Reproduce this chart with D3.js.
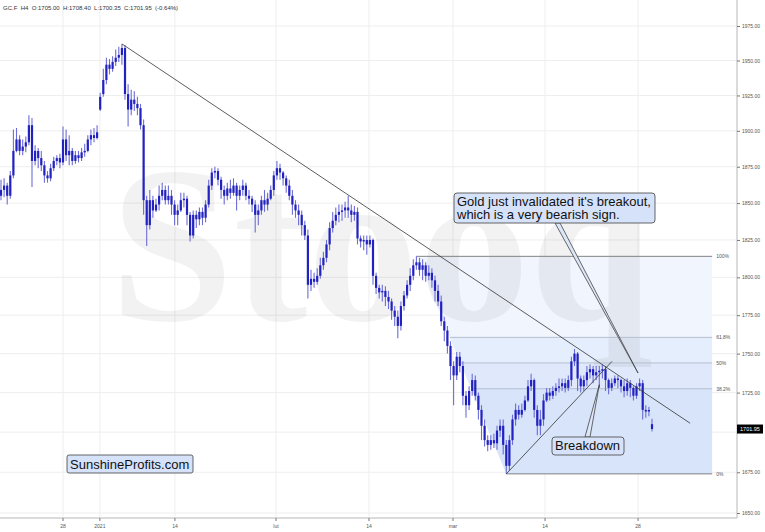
<!DOCTYPE html>
<html>
<head>
<meta charset="utf-8">
<script src="https://cdn.jsdelivr.net/npm/d3@7"></script>
<style>
  body { margin: 0; background: #fff; }
  svg { display: block; font-family: "Liberation Sans", Arial, sans-serif; }
</style>
</head>
<body>
<div id="chart"></div>
<script>
// GC.F H4 bars: [open, high, low, close]
const bars = [
  [1855,1866,1852,1859],[1859,1867,1854,1862],[1862,1864,1849,1855],[1855,1872,1853,1869],
  [1869,1901,1867,1886],[1886,1902,1885,1894],[1894,1897,1883,1886],[1886,1894,1883,1889],
  [1889,1896,1885,1892],[1892,1911,1890,1904],[1904,1909,1861,1879],[1879,1890,1876,1886],
  [1886,1888,1874,1881],[1881,1886,1872,1876],[1876,1879,1864,1869],[1869,1872,1864,1867],
  [1867,1877,1865,1874],[1874,1882,1872,1879],[1879,1883,1876,1881],[1881,1884,1874,1878],
  [1878,1903,1876,1894],[1894,1901,1879,1883],[1883,1897,1876,1886],[1886,1888,1876,1879],
  [1879,1886,1877,1883],[1883,1886,1878,1881],[1881,1888,1879,1885],[1885,1891,1882,1886],
  [1886,1897,1885,1894],[1894,1901,1890,1897],[1897,1902,1892,1895],[1895,1904,1894,1899],
  [1915,1927,1914,1924],[1926,1944,1924,1936],[1936,1952,1933,1947],[1947,1951,1940,1944],
  [1944,1953,1942,1949],[1949,1958,1946,1952],[1952,1960,1949,1954],[1954,1962,1947,1959],
  [1959,1961,1922,1926],[1926,1933,1903,1915],[1915,1929,1911,1922],[1922,1928,1914,1919],
  [1919,1924,1911,1916],[1916,1919,1901,1904],[1904,1908,1842,1852],[1852,1855,1821,1835],
  [1835,1859,1832,1852],[1852,1855,1840,1845],[1845,1853,1844,1849],[1849,1862,1845,1855],
  [1855,1864,1852,1859],[1859,1862,1849,1852],[1852,1862,1849,1855],[1855,1859,1842,1849],
  [1849,1852,1835,1842],[1842,1849,1835,1845],[1845,1857,1844,1852],[1852,1857,1847,1853],
  [1853,1855,1835,1842],[1842,1844,1824,1828],[1828,1845,1826,1842],[1842,1845,1833,1839],
  [1839,1847,1835,1844],[1844,1847,1835,1840],[1840,1852,1837,1849],[1849,1866,1847,1862],
  [1862,1874,1859,1871],[1871,1875,1867,1872],[1872,1874,1862,1866],[1866,1868,1853,1859],
  [1859,1862,1849,1855],[1855,1864,1852,1860],[1860,1866,1853,1857],[1857,1867,1855,1862],
  [1862,1864,1845,1855],[1855,1862,1852,1859],[1859,1866,1855,1862],[1862,1864,1852,1855],
  [1855,1859,1849,1853],[1853,1855,1844,1849],[1849,1852,1830,1842],[1842,1849,1835,1845],
  [1845,1855,1842,1852],[1852,1859,1844,1849],[1849,1857,1845,1853],[1853,1862,1852,1859],
  [1859,1872,1855,1869],[1869,1879,1866,1874],[1874,1877,1866,1871],[1871,1872,1862,1867],
  [1867,1869,1857,1862],[1862,1866,1852,1855],[1855,1859,1842,1849],[1849,1852,1840,1845],
  [1845,1849,1835,1842],[1842,1845,1828,1835],[1835,1838,1825,1828],[1828,1832,1786,1795],
  [1795,1805,1791,1799],[1799,1803,1793,1797],[1797,1806,1795,1801],[1801,1813,1799,1808],
  [1808,1817,1805,1813],[1813,1825,1810,1822],[1822,1837,1818,1833],[1833,1844,1830,1838],
  [1838,1847,1835,1842],[1842,1849,1837,1844],[1844,1849,1838,1845],[1845,1851,1840,1847],
  [1847,1855,1840,1845],[1845,1849,1837,1842],[1842,1848,1838,1844],[1844,1847,1822,1826],
  [1826,1828,1820,1824],[1824,1828,1818,1825],[1825,1828,1815,1822],[1822,1828,1820,1825],
  [1825,1826,1795,1801],[1801,1803,1789,1793],[1793,1795,1786,1790],[1790,1795,1784,1791],
  [1791,1794,1781,1787],[1787,1791,1779,1784],[1784,1786,1772,1778],[1778,1781,1768,1774],
  [1774,1778,1760,1768],[1768,1784,1765,1781],[1781,1791,1778,1788],[1788,1798,1786,1795],
  [1795,1806,1791,1801],[1801,1812,1798,1808],[1808,1814,1805,1810],[1810,1813,1801,1805],
  [1805,1812,1798,1808],[1808,1810,1797,1801],[1801,1808,1798,1803],[1803,1806,1793,1798],
  [1798,1801,1784,1791],[1791,1795,1781,1784],[1784,1788,1768,1771],[1771,1774,1758,1765],
  [1765,1768,1750,1755],[1755,1758,1733,1742],[1742,1745,1717,1736],[1736,1751,1733,1748],
  [1748,1751,1738,1742],[1742,1745,1717,1723],[1723,1726,1709,1717],[1717,1729,1714,1726],
  [1726,1737,1723,1733],[1733,1736,1720,1723],[1723,1725,1708,1714],[1714,1717,1695,1704],
  [1704,1708,1691,1695],[1695,1698,1688,1692],[1692,1698,1689,1695],[1695,1699,1690,1693],
  [1693,1704,1689,1701],[1701,1708,1697,1704],[1704,1708,1686,1692],[1692,1695,1674,1679],
  [1679,1698,1676,1695],[1695,1711,1692,1708],[1708,1718,1704,1714],[1714,1717,1708,1711],
  [1711,1718,1709,1714],[1714,1723,1713,1720],[1720,1733,1719,1729],[1729,1737,1726,1733],
  [1733,1734,1709,1714],[1714,1717,1698,1704],[1704,1714,1698,1708],[1708,1724,1704,1720],
  [1720,1728,1719,1725],[1725,1728,1720,1723],[1723,1729,1721,1726],[1726,1731,1723,1728],
  [1728,1734,1725,1729],[1729,1734,1726,1731],[1731,1734,1725,1728],[1728,1736,1726,1733],
  [1733,1748,1729,1745],[1745,1753,1742,1750],[1750,1751,1726,1734],[1734,1736,1725,1729],
  [1729,1736,1726,1733],[1733,1742,1729,1738],[1738,1743,1734,1740],[1740,1742,1731,1736],
  [1736,1742,1733,1738],[1738,1742,1728,1739],[1739,1743,1734,1740],[1740,1742,1726,1733],
  [1733,1734,1724,1728],[1728,1734,1726,1731],[1731,1736,1729,1734],[1734,1736,1728,1733],
  [1733,1734,1725,1729],[1729,1733,1722,1726],[1726,1734,1723,1731],[1731,1733,1722,1728],
  [1728,1729,1720,1723],[1723,1731,1721,1729],[1729,1734,1726,1731],[1731,1733,1708,1714],
  [1714,1717,1709,1713],[1713,1716,1710,1714],[1705,1708.4,1700.35,1701.95]
];

const yTicks = [1650,1675,1700,1725,1750,1775,1800,1825,1850,1875,1900,1925,1950,1975];
const xTickLabels = ["28","2021","14","lut","14","mar","14","28"];
const xTickBars = [20, 31.9, 56.1, 88.7, 118.7, 145.8, 175.5, 205.5];

const fibLevels = [1, 0.618, 0.5, 0.382, 0];
const fibLabels = ["100%", "61.8%", "50%", "38.2%", "0%"];
const fibHighBar = 134, fibLowBar = 163, fibEndBar = 229.4;

// trend lines: [barIndex, price] pairs
const downTrend = [[39, 1962], [222.3, 1705.6]];
const upTrend = [[163, 1674], [197.1, 1745]];

const header = "GC.F  H4  O:1705.00  H:1708.40  L:1700.35  C:1701.95  (-0.64%)";
const lastClose = 1701.95;

const width = 765, height = 532;
const plotRight = 737, plotBottom = 518;

const svg = d3.select('#chart').append('svg')
    .attr('width', width).attr('height', height);

const x = d3.scaleLinear().domain([0, bars.length - 1]).range([1, 652]);
const y = d3.scaleLog().domain([1650, 1975]).range([513, 26]);

// grid
svg.append('g').selectAll('line').data(xTickBars).enter().append('line')
    .attr('x1', d => x(d)).attr('x2', d => x(d))
    .attr('y1', 0).attr('y2', plotBottom)
    .attr('stroke', '#eeeeee');
svg.append('g').selectAll('line').data(yTicks).enter().append('line')
    .attr('x1', 0).attr('x2', plotRight)
    .attr('y1', d => y(d)).attr('y2', d => y(d))
    .attr('stroke', '#eeeeee');

// fibonacci area
const fibHigh = bars[fibHighBar][1], fibLow = bars[fibLowBar][2];
const fibPrice = f => fibLow + f * (fibHigh - fibLow);
const xH = x(fibHighBar), yH = y(fibHigh), xL = x(fibLowBar), yL = y(fibLow);
const diagX = yy => xH + (yy - yH) / (yL - yH) * (xL - xH);
const xR = x(fibEndBar);
const bandFill = ['#f1f5fd', '#e5eefc', '#dfe9fb', '#d7e4fa'];

for (let k = 0; k < fibLevels.length - 1; k++) {
    const y1 = y(fibPrice(fibLevels[k])), y2 = y(fibPrice(fibLevels[k + 1]));
    svg.append('polygon')
        .attr('points', [[diagX(y1), y1], [xR, y1], [xR, y2], [diagX(y2), y2]].join(' '))
        .attr('fill', bandFill[k]);
}

// watermark
svg.append('text')
    .attr('x', 110).attr('y', 320)
    .attr('font-family', '"Liberation Serif", "DejaVu Serif", serif')
    .attr('font-weight', 'bold')
    .attr('font-size', 222)
    .attr('fill', '#000').attr('fill-opacity', 0.05)
    .text('Stooq');

// fib lines + labels
fibLevels.forEach((f, k) => {
    const yy = y(fibPrice(f));
    const strong = f === 1 || f === 0;
    svg.append('line')
        .attr('x1', diagX(yy)).attr('x2', xR)
        .attr('y1', yy).attr('y2', yy)
        .attr('stroke', strong ? '#666' : '#b4bfd0')
        .attr('stroke-width', strong ? 0.8 : 1);
    svg.append('text')
        .attr('x', xR + 4).attr('y', yy + 1.8)
        .attr('font-size', 5).attr('fill', '#555')
        .text(fibLabels[k]);
});

// bars
const g = svg.append('g');
g.selectAll('line.wick').data(bars).enter().append('line')
    .attr('class', 'wick')
    .attr('x1', (d, i) => x(i)).attr('x2', (d, i) => x(i))
    .attr('y1', d => y(d[1])).attr('y2', d => y(d[2]))
    .attr('stroke', '#6d6dd6').attr('stroke-width', 1.1);
g.selectAll('rect').data(bars).enter().append('rect')
    .attr('x', (d, i) => x(i) - 1.1)
    .attr('width', 2.2)
    .attr('y', d => y(Math.max(d[0], d[3])))
    .attr('height', d => Math.max(1, Math.abs(y(d[0]) - y(d[3]))))
    .attr('fill', '#2222c0');

// trend lines
[downTrend, upTrend].forEach(t => {
    svg.append('line')
        .attr('x1', x(t[0][0])).attr('y1', y(t[0][1]))
        .attr('x2', x(t[1][0])).attr('y2', y(t[1][1]))
        .attr('stroke', '#333').attr('stroke-width', 0.8);
});

// callouts
function callout(lines, bx, by, bw, bh, fs, base, baseY, tip) {
    svg.append('polygon')
        .attr('points', [[base[0], baseY], [x(tip[0]), y(tip[1])], [base[1], baseY]].join(' '))
        .attr('fill', '#dce7f9').attr('stroke', '#444').attr('stroke-width', 0.8);
    svg.append('rect')
        .attr('x', bx).attr('y', by).attr('width', bw).attr('height', bh)
        .attr('rx', 3)
        .attr('fill', '#d5e2f9').attr('stroke', '#555').attr('stroke-width', 0.9);
    lines.forEach((s, k) => {
        svg.append('text')
            .attr('x', bx + 3).attr('y', by + fs - 0.5 + k * fs)
            .attr('font-size', fs).attr('fill', '#111')
            .text(s);
    });
}
callout(["Gold just invalidated it's breakout,", "which is a very bearish sign."],
    454, 193, 201, 30, 13, [555, 560], 223, [205.5, 1737.5]);
callout(["Breakdown"], 552, 437, 72, 18, 13, [585, 590], 437, [193, 1730]);

// brand box
svg.append('rect')
    .attr('x', 67).attr('y', 455).attr('width', 126).attr('height', 18)
    .attr('rx', 2)
    .attr('fill', '#d5e2f9').attr('stroke', '#555').attr('stroke-width', 0.9);
svg.append('text')
    .attr('x', 70).attr('y', 469)
    .attr('font-size', 13).attr('fill', '#111')
    .text('SunshineProfits.com');

// axes
svg.append('line')
    .attr('x1', plotRight).attr('x2', plotRight).attr('y1', 0).attr('y2', plotBottom)
    .attr('stroke', '#cfcfcf').attr('stroke-width', 1.5);
svg.append('line')
    .attr('x1', 0).attr('x2', plotRight).attr('y1', plotBottom).attr('y2', plotBottom)
    .attr('stroke', '#cfcfcf').attr('stroke-width', 1.5);

// the 1700 label sits under the last-price tag, as in the original
const yAxis = d3.axisRight(y).tickValues(yTicks)
    .tickFormat(d => d === 1700 ? '' : d3.format('.2f')(d))
    .tickSize(3).tickPadding(2);
const ya = svg.append('g').attr('transform', `translate(${plotRight},0)`).call(yAxis);
ya.select('.domain').remove();
ya.selectAll('line').attr('stroke', '#777');
ya.selectAll('text').attr('font-size', 5).attr('fill', '#555').attr('font-family', null);

const xa = svg.append('g').attr('transform', `translate(0,${plotBottom})`);
xTickBars.forEach((b, k) => {
    xa.append('line').attr('x1', x(b)).attr('x2', x(b)).attr('y1', 0).attr('y2', 3)
        .attr('stroke', '#777');
    xa.append('text').attr('x', x(b)).attr('y', 10)
        .attr('text-anchor', 'middle').attr('font-size', 5).attr('fill', '#555')
        .text(xTickLabels[k]);
});

// last price tag
svg.append('rect')
    .attr('x', plotRight).attr('y', y(lastClose) - 4.5).attr('width', 26).attr('height', 9)
    .attr('fill', '#000');
svg.append('text')
    .attr('x', plotRight + 13).attr('y', y(lastClose) + 1.8)
    .attr('text-anchor', 'middle').attr('font-size', 5.5).attr('fill', '#fff')
    .text(d3.format('.2f')(lastClose));

// header
svg.append('text')
    .attr('x', 3).attr('y', 10)
    .attr('font-size', 6).attr('fill', '#333')
    .style('white-space', 'pre')
    .text(header);
</script>
</body>
</html>
